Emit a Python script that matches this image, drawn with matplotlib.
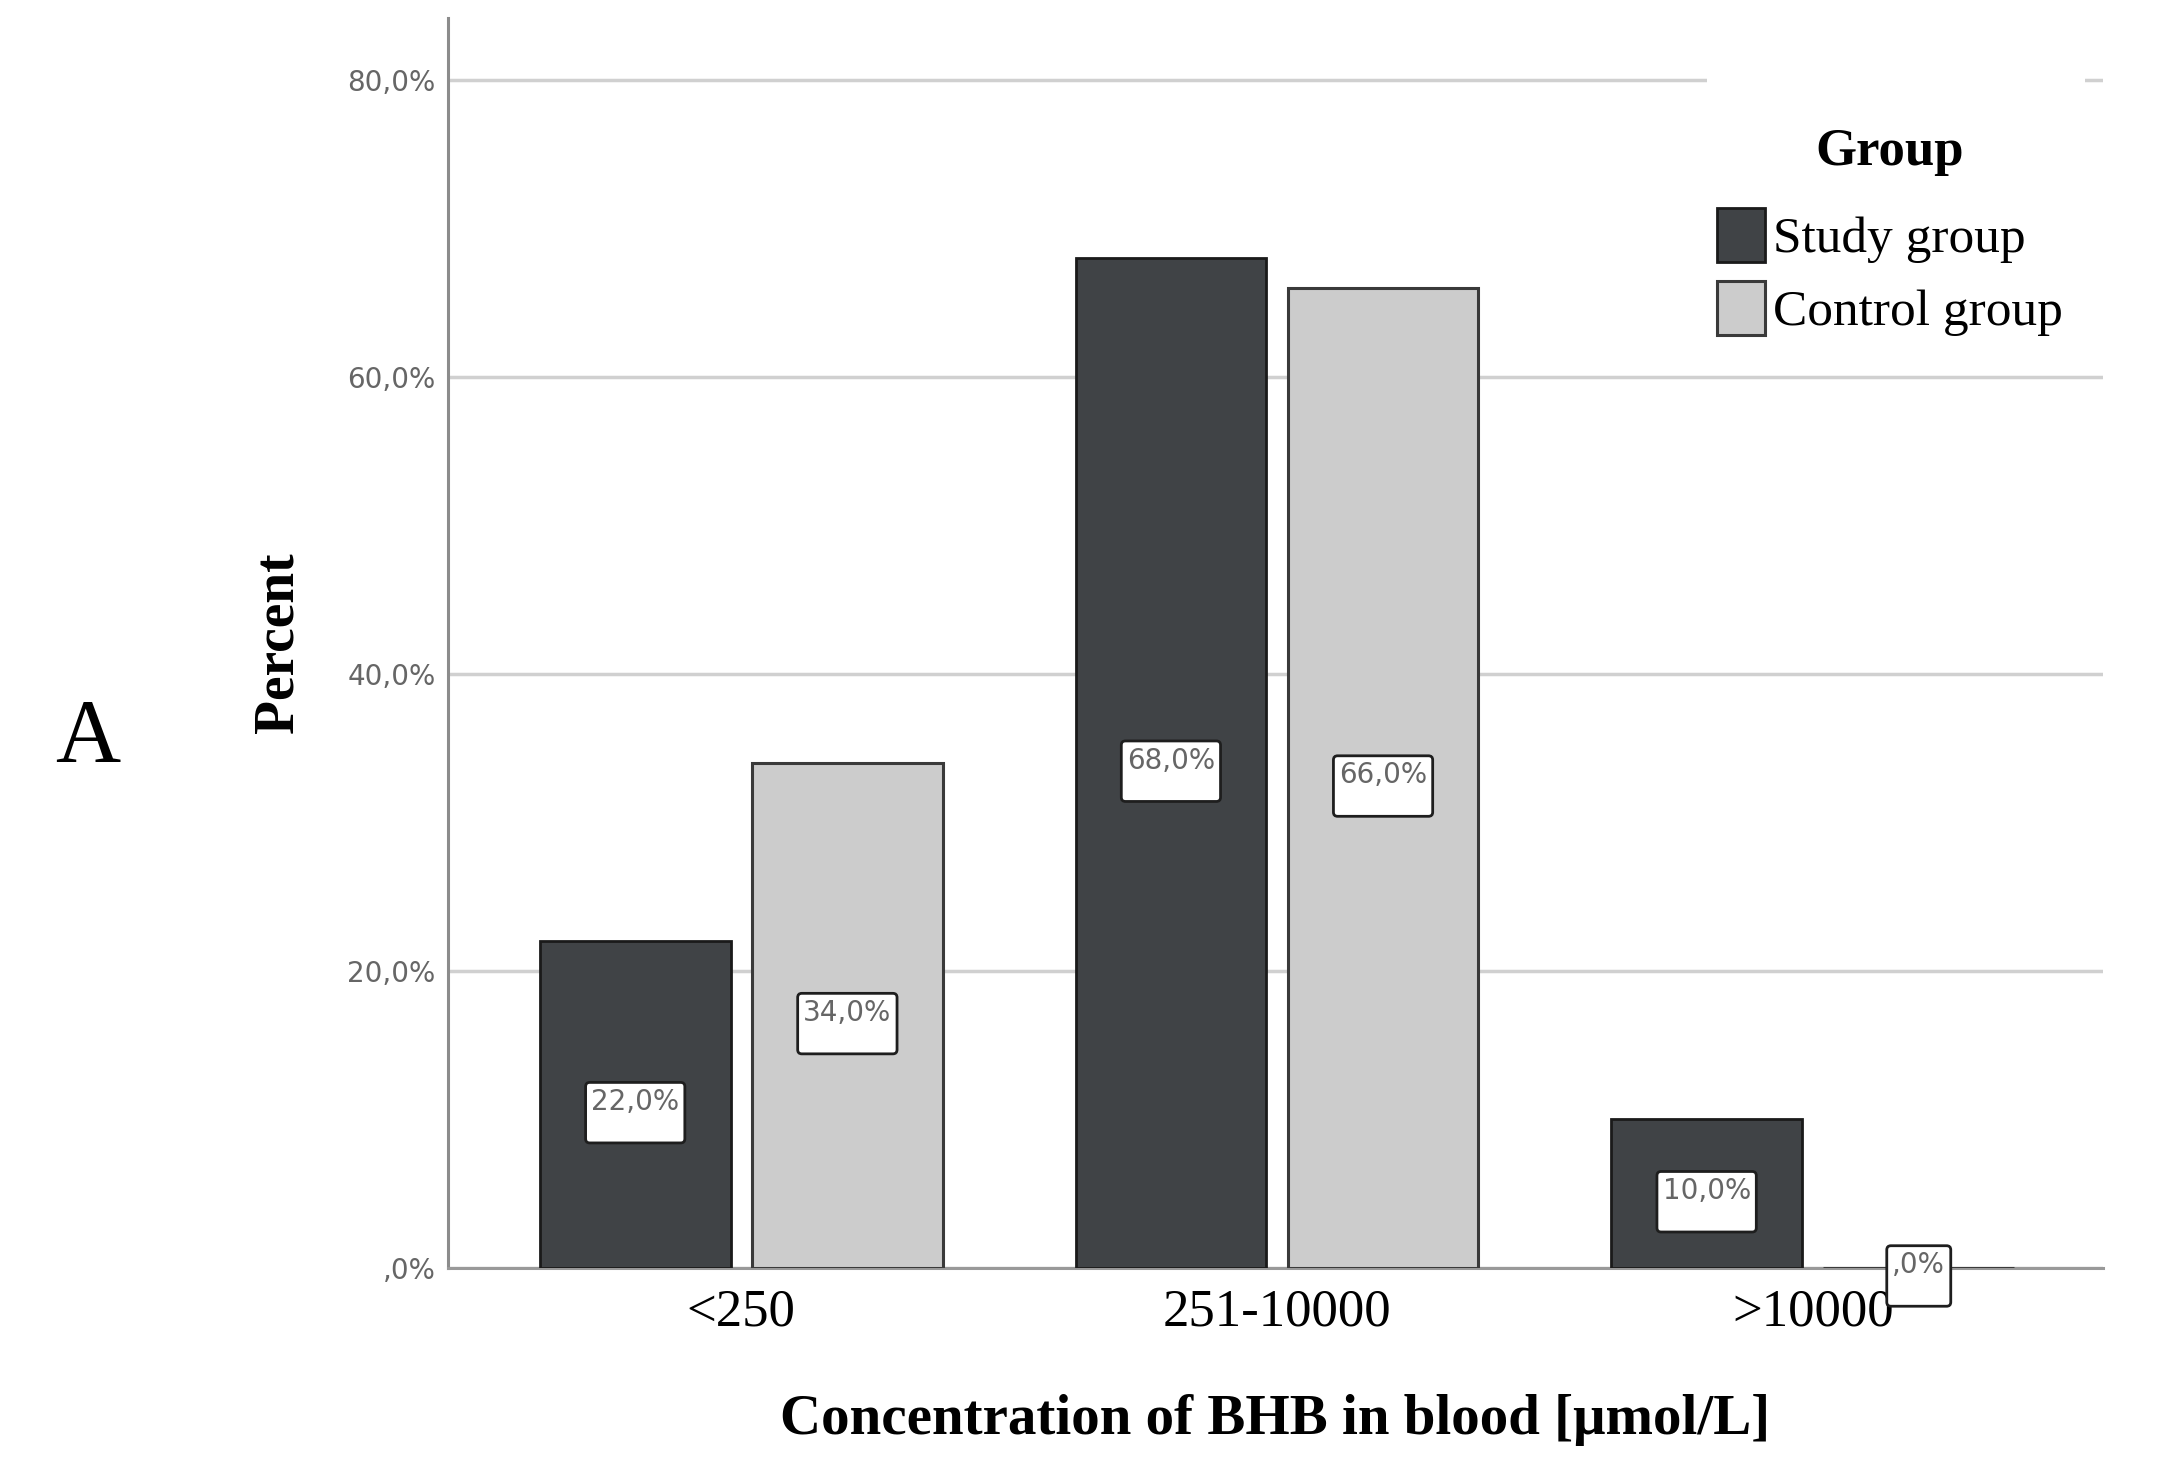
import matplotlib
matplotlib.use("Agg")
import matplotlib.pyplot as plt
from matplotlib.patches import Rectangle
import numpy as np

# data
categories = ["<250", "251-10000", ">10000"]
study_pct = [22.0, 68.0, 10.0]
control_pct = [34.0, 66.0, 0.0]
group_names = ["Study group", "Control group"]
y_ticks = [0, 20, 40, 60, 80]
y_tick_labels = [",0%", "20,0%", "40,0%", "60,0%", "80,0%"]

SERIF = "Liberation Serif"
GREY_TXT = "#666666"


def pct_label(v):
    s = f"{v:.1f}".replace(".", ",")
    if s.startswith("0"):
        s = s[1:]
    return s + "%"


fig = plt.figure(figsize=(21.8, 14.79), dpi=100)
ax = fig.add_axes([0.2055, 0.1427, 0.7592, 0.8452])

x = np.arange(len(categories))
width = 0.356
offset = 0.198

bars_s = ax.bar(x - offset, study_pct, width, color="#404346", edgecolor="#1a1a1a",
                linewidth=2.0, zorder=3, label=group_names[0])
bars_c = ax.bar(x + offset, control_pct, width, color="#cccccc", edgecolor="#3a3a3a",
                linewidth=2.2, zorder=3, label=group_names[1])

# value boxes, text sits in the upper part of the box
for bars, vals in [(bars_s, study_pct), (bars_c, control_pct)]:
    for r, v in zip(bars, vals):
        ax.annotate(pct_label(v) + "\n", xy=(r.get_x() + r.get_width() / 2, v / 2),
                    xytext=(0, -6), textcoords="offset points",
                    ha="center", va="center_baseline", fontsize=20, color=GREY_TXT,
                    linespacing=0.7, zorder=6,
                    bbox=dict(boxstyle="round,pad=0.2,rounding_size=0.15", fc="white",
                              ec="#1e1e1e", lw=2.0))

ax.set_xlim(-0.5475, 2.542)
ax.set_ylim(0, 84.2)
ax.set_yticks(y_ticks)
ax.set_yticklabels(y_tick_labels)
ax.set_xticks(x)
ax.set_xticklabels(categories, family=SERIF, fontsize=38)

ax.yaxis.grid(True, color="#d0d0d0", linewidth=2.5)
ax.set_axisbelow(True)
ax.tick_params(axis="y", length=0, pad=9, labelsize=20, labelcolor=GREY_TXT)
ax.tick_params(axis="x", length=0, pad=15)

for side in ["top", "right"]:
    ax.spines[side].set_visible(False)
ax.spines["left"].set_color("#8c8c8c")
ax.spines["left"].set_linewidth(2.2)
ax.spines["bottom"].set_color("#999999")
ax.spines["bottom"].set_linewidth(2.2)

ax.set_xlabel("Concentration of BHB in blood [\u03bcmol/L]", family=SERIF,
              weight="bold", fontsize=41)
ax.xaxis.label.set_va("baseline")
ax.xaxis.set_label_coords(0.5, -0.1325)
ax.set_ylabel("Percent", family=SERIF, weight="bold", fontsize=40)
ax.yaxis.label.set_va("center")
ax.yaxis.set_label_coords(-0.1027, 0.5)

# white panel behind the legend
ax.add_patch(Rectangle((0.761, 0.727), 0.228, 0.225, transform=ax.transAxes,
                       facecolor="white", edgecolor="none", zorder=4))
leg = ax.legend(title="Group", loc="upper left", bbox_to_anchor=(0.7668, 0.912),
                frameon=False, borderpad=0, borderaxespad=0,
                prop={"family": SERIF, "size": 37},
                title_fontproperties={"family": SERIF, "weight": "bold", "size": 38},
                handlelength=0.93, handleheight=1.25, handletextpad=0.16,
                labelspacing=0.34)
leg._legend_box.sep = 23  # extra room under the title
leg.set_zorder(7)

fig.text(88 / 2180, 1 - 762 / 1479, "A", family=SERIF, fontsize=65,
         ha="center", va="baseline")

fig.savefig("out.png", dpi=100, facecolor="white")
